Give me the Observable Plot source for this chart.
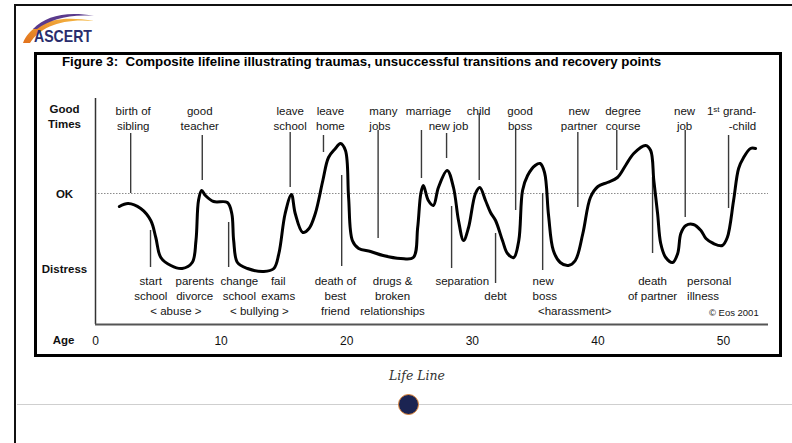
<!DOCTYPE html>
<html><head><meta charset="utf-8">
<script src="https://cdn.jsdelivr.net/npm/d3@7"></script>
<script src="https://cdn.jsdelivr.net/npm/@observablehq/plot@0.6"></script>
<style>
body{margin:0;background:#fff;}
#page{position:relative;width:792px;height:443px;overflow:hidden;font-family:"Liberation Sans",Arial,sans-serif;background:#fff;}
#chart{position:absolute;left:0;top:0;}
.outer{position:absolute;left:14px;top:4px;width:900px;height:600px;border-left:2px solid #111;border-top:2px solid #111;}
.inner{position:absolute;left:34px;top:52px;width:748px;height:305px;box-sizing:border-box;border:3px solid #000;}
.title{position:absolute;left:62px;top:54px;font-size:13.3px;line-height:16px;font-weight:bold;color:#000;white-space:pre;}
.caption{position:absolute;left:317px;width:200px;top:368px;text-align:center;font-family:"DejaVu Serif","Liberation Serif",serif;font-style:italic;font-size:12.5px;color:#333;}
.rule{position:absolute;left:17px;top:404px;width:800px;height:1px;background:#cfcfcf;}
.dot{position:absolute;left:398px;top:394px;width:19px;height:19px;border-radius:50%;background:#1b2452;border:1px solid #e0873a;}
#logo{position:absolute;left:0;top:0;}
</style></head><body>
<div id="page">
  <div id="chart"></div>
  <div class="outer"></div>
  <div class="inner"></div>
  <div class="title">Figure 3:  Composite lifeline illustrating traumas, unsuccessful transitions and recovery points</div>
  <svg id="logo" width="120" height="50">
    <defs><linearGradient id="og" x1="0" x2="1" y1="1" y2="0"><stop offset="0" stop-color="#e2721c"/><stop offset="1" stop-color="#f6bb45"/></linearGradient></defs>
    <path d="M23,43 C30,24 55,14 94,21 C62,18 40,27 30,43 Z" fill="url(#og)"/>
    <path d="M33,29 C46,16 66,11 94,16 C68,14 50,20 37,29 Z" fill="#5a3a8c"/>
    <text x="34" y="42" font-family="Liberation Sans, Arial, sans-serif" font-weight="bold" font-size="17" textLength="58" lengthAdjust="spacingAndGlyphs" fill="#2a2d6c">ASCERT</text>
  </svg>
  <div class="caption">Life Line</div>
  <div class="rule"></div>
  <div class="dot"></div>
</div>
<script>
// Life line curve (age in years, wellbeing relative to "OK" = 0)
const ages = [1.9,2.6,3.6,4.4,4.8,5.2,6.0,6.9,7.7,8.0,8.2,8.45,8.75,9.4,10.5,10.85,11.0,11.3,12.1,13.4,14.2,14.6,15.1,15.6,15.9,16.5,17.0,17.5,18.1,18.55,19.1,19.5,19.9,20.15,20.45,20.95,21.9,22.9,24.3,25.3,25.65,25.9,26.1,26.5,26.9,27.3,28.0,28.5,28.9,29.3,29.7,30.25,30.6,31.05,31.45,31.85,32.4,32.8,33.3,33.7,34.0,34.4,35.0,35.4,35.75,36.07,36.45,37.0,37.65,38.2,38.8,39.4,40.0,40.75,41.55,42.2,42.85,43.8,44.2,44.45,44.75,45.0,45.4,45.95,46.35,46.6,47.0,47.6,48.2,48.6,49.2,49.9,50.3,50.8,51.2,51.6,52.15,52.55];
const wellbeing = [-1.3,-1.0,-1.5,-2.7,-4.4,-6.4,-7.2,-7.5,-6.9,-4.7,-0.7,0.3,-0.2,-0.8,-0.9,-2.0,-4.7,-6.9,-7.5,-7.8,-7.5,-6.0,-2.0,-0.1,-2.0,-3.9,-3.5,-2.0,1.3,3.6,4.5,5.0,4.3,-0.4,-4.7,-5.5,-5.8,-6.2,-6.5,-6.4,-3.4,0.0,0.8,-0.7,-1.2,0.6,2.3,0.6,-2.7,-4.7,-3.4,0.0,0.6,-0.7,-1.9,-2.7,-4.7,-6.0,-6.4,-4.7,0.3,1.8,2.8,3.0,2.1,-2.2,-5.7,-6.9,-7.2,-6.7,-4.0,-0.4,0.7,1.1,1.6,2.8,4.0,4.8,4.3,1.3,-2.0,-5.0,-6.4,-6.9,-6.0,-4.0,-3.2,-3.1,-3.7,-4.5,-5.0,-5.2,-4.4,-0.7,2.5,3.6,4.5,4.5];

const ageTicks = [0,10,20,30,40,50];
const levelNames = ["Good\nTimes","OK","Distress"];
const levelValues = [7.75, 0, -7.5];

// events above the line
const upLabels = ["birth of\nsibling","good\nteacher","leave\nschool","leave\nhome","many\njobs","marriage","\nnew job","child","good\nboss","new\npartner","degree\ncourse","new\njob","1ˢᵗ grand-\n-child"];
const upLabelAges = [3.0,8.3,15.5,18.7,21.8,26.5,28.1,30.5,33.8,38.5,42.0,46.9,52.6];
const upLineAges = [2.8,8.5,15.5,18.15,22.5,25.95,27.95,30.55,33.45,38.4,41.5,46.95,50.4];
const upLineFrom = [6.0,5.8,6.1,5.8,6.3,6.3,6.0,8.0,6.5,6.1,6.3,6.3,5.8];
const upLineTo = [0,1.3,0.6,4.1,-4.5,1.5,3.5,1.3,-1.7,-1.4,2.3,-2.4,-1.5];

// events below the line
const downLabels = ["start\nschool","parents\ndivorce","\n\n< abuse >","change\nschool","fail\nexams","\n\n< bullying >","death of\nbest\nfriend","drugs &\nbroken\nrelationships","separation","\ndebt","new\nboss","\n\n<harassment>","death\nof partner","personal\nillness"];
const downLabelAges = [4.4,7.9,6.4,11.45,14.55,13.05,19.1,23.65,29.2,31.85,34.8,38.15,44.35,47.1];
const downLineAges = [4.38,10.6,19.6,28.35,31.85,35.6,44.35];
const downLineFrom = [-3.7,-2.9,1.8,-1.3,-4.0,0,1.6];
const downLineTo = [-7.4,-7.4,-7.3,-7.5,-9.0,-7.7,-6.0];

const credit = ["\n\n© Eos 2001"];
const creditAge = [52.8];

const life = ages.map((a, i) => ({age: a, v: wellbeing[i]}));
const upRow = 8.9, downRow = -8.1;
const startAligned = new Set(["many\njobs","new\nboss","personal\nillness"]);
const endAligned = new Set(["1ˢᵗ grand-\n-child"]);
const font = "Liberation Sans, Arial, sans-serif";
const txt = {fontSize: 11.5, lineHeight: 1.3, fill: "#141414", lineAnchor: "top"};

function labelMarks(labels, labelAges, row) {
  const idx = labels.map((_, i) => i);
  const groups = [
    ["middle", idx.filter(i => !startAligned.has(labels[i]) && !endAligned.has(labels[i]))],
    ["start", idx.filter(i => startAligned.has(labels[i]))],
    ["end", idx.filter(i => endAligned.has(labels[i]))]
  ];
  return groups.filter(g => g[1].length).map(([anchor, ids]) =>
    Plot.text(ids, {x: i => labelAges[i], y: () => row, text: i => labels[i], textAnchor: anchor, ...txt}));
}

const plot = Plot.plot({
  width: 792, height: 360,
  marginLeft: 95, marginRight: 24, marginTop: 98, marginBottom: 36,
  x: {domain: [0, 53.58], label: null},
  y: {domain: [-13.1, 9.5], axis: null, label: null},
  style: {background: "transparent", fontFamily: font, overflow: "visible"},
  marks: [
    Plot.ruleY([0], {stroke: "#8c8c8c", strokeWidth: 1, strokeDasharray: "1.5,1.5"}),
    Plot.ruleX([0], {stroke: "#333", strokeWidth: 1.5}),
    Plot.ruleY([-13.1], {stroke: "#555", strokeWidth: 2.2}),
    Plot.axisX({ticks: ageTicks, tickSize: 0, tickPadding: 12, fontSize: 12, fill: "#111", tickFormat: d => String(d), label: null}),
    Plot.ruleX(upLineAges.map((_, i) => i), {x: i => upLineAges[i], y1: i => upLineFrom[i], y2: i => upLineTo[i], stroke: "#3a3a3a", strokeWidth: 1.4}),
    Plot.ruleX(downLineAges.map((_, i) => i), {x: i => downLineAges[i], y1: i => downLineFrom[i], y2: i => downLineTo[i], stroke: "#3a3a3a", strokeWidth: 1.4}),
    Plot.line(life, {x: "age", y: "v", curve: "catmull-rom", stroke: "#000", strokeWidth: 3, strokeLinejoin: "round", strokeLinecap: "round"}),
    ...labelMarks(upLabels, upLabelAges, upRow),
    ...labelMarks(downLabels, downLabelAges, downRow),
    Plot.text(credit, {x: creditAge, y: () => downRow, text: d => d, textAnchor: "end", fontSize: 9.5, lineHeight: 1.6, fill: "#141414", lineAnchor: "top"}),
    Plot.text(levelNames, {y: levelValues, frameAnchor: "left", dx: -31, text: d => d, textAnchor: "middle", lineAnchor: "middle", fontWeight: "bold", fontSize: 11.5, lineHeight: 1.3, fill: "#111"}),
    Plot.text(["Age"], {frameAnchor: "bottom-left", dx: -32, dy: 16, text: d => d, textAnchor: "middle", lineAnchor: "middle", fontWeight: "bold", fontSize: 11.5, fill: "#111"})
  ]
});
document.getElementById("chart").appendChild(plot);
</script>
</body></html>
